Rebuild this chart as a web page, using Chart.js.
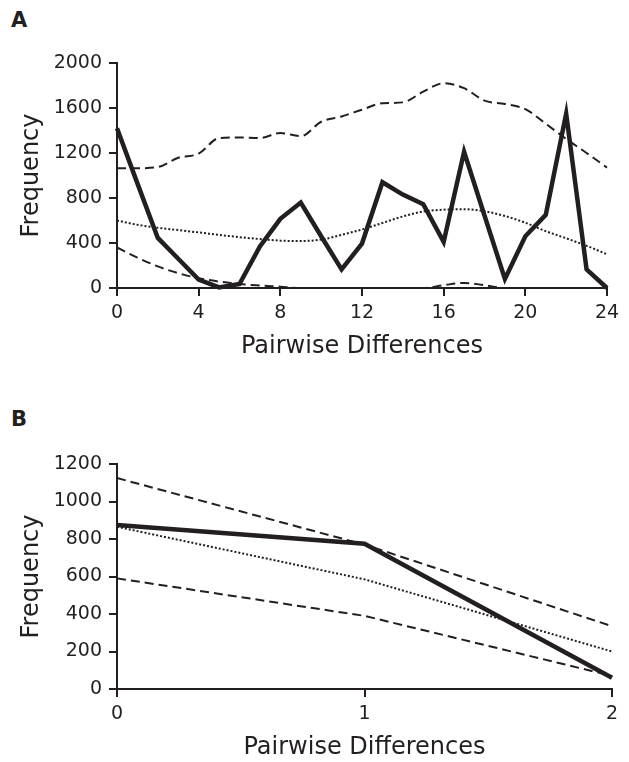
<!DOCTYPE html>
<html>
<head>
<meta charset="utf-8">
<script src="https://cdn.jsdelivr.net/npm/chart.js@4"></script>
<style>
  body { margin: 0; background: #fff; }
  .wrap { position: absolute; left: 0; width: 629px; }
  .panel { position: absolute; left: 11px; font: bold 21px "DejaVu Sans"; color: #231f20; line-height: 1; }
</style>
</head>
<body>
<div class="panel" style="top:10px">A</div>
<div class="wrap" style="top:0;height:361px"><canvas id="chartA"></canvas></div>
<div class="panel" style="top:409px">B</div>
<div class="wrap" style="top:380px;height:382px"><canvas id="chartB"></canvas></div>
<script>
const ink = '#231f20';

// panel A
const diffsA = [0, 1, 2, 3, 4, 5, 6, 7, 8, 9, 10, 11, 12, 13, 14, 15, 16, 17, 18, 19, 20, 21, 22, 23, 24];
const observedA = [1420, 930, 445, 260, 75, 5, 35, 370, 615, 760, 460, 165, 395, 940, 830, 745, 410, 1210, 645, 80, 460, 650, 1550, 165, 0];
const upperA = [1065, 1065, 1075, 1158, 1194, 1333, 1338, 1333, 1378, 1350, 1478, 1525, 1585, 1642, 1650, 1745, 1820, 1776, 1666, 1636, 1590, 1460, 1325, 1200, 1070];
const expectedA = [600, 562, 535, 515, 494, 472, 452, 435, 421, 418, 430, 472, 520, 578, 636, 680, 696, 700, 682, 640, 580, 505, 442, 375, 300];
const lowerA = [360, 270, 192, 132, 87, 57, 35, 22, 12, 0, 0, 0, 0, 0, 0, 0, 25, 45, 25, 0, 0, 0, 0, 0, 0];

// panel B
const diffsB = [0, 1, 2];
const observedB = [875, 775, 60];
const upperB = [1125, 770, 335];
const expectedB = [865, 585, 200];
const lowerB = [590, 390, 70];

function pts(xs, ys) {
  return xs.map((x, i) => ({ x: x, y: ys[i] }));
}

function lineSet(xs, ys, style, smooth) {
  const set = {
    data: pts(xs, ys),
    borderColor: ink,
    pointRadius: 0,
    fill: false,
    clip: false,
    borderWidth: 2,
    tension: 0,
  };
  if (smooth) set.cubicInterpolationMode = 'monotone';
  if (style === 'solid') {
    set.borderWidth = 4.5;
    set.borderJoinStyle = 'miter';
  } else if (style === 'dash') {
    set.borderDash = [9, 5];
  } else {
    set.borderDash = [2, 2];
  }
  return set;
}

function buildChart(id, xs, sets, xMax, xStep, yMax, yStep, padTop, padRight) {
  const tickFont = { family: 'DejaVu Sans', size: 19 };
  const titleFont = { family: 'DejaVu Sans', size: 24 };
  return new Chart(document.getElementById(id), {
    type: 'line',
    data: { datasets: sets },
    options: {
      responsive: true,
      maintainAspectRatio: false,
      animation: false,
      events: [],
      layout: { padding: { top: padTop, right: padRight, left: 0, bottom: 0 } },
      plugins: { legend: { display: false }, tooltip: { enabled: false } },
      scales: {
        x: {
          type: 'linear',
          min: 0,
          max: xMax,
          afterFit: (s) => { s.height = 73; },
          ticks: { stepSize: xStep, color: ink, font: tickFont, padding: 6, maxRotation: 0, callback: (v) => String(v) },
          grid: { drawOnChartArea: false, tickLength: 8, color: ink, lineWidth: 2 },
          border: { color: ink, width: 2 },
          title: { display: true, text: 'Pairwise Differences', color: ink, font: titleFont, padding: { top: 0, bottom: 0 } },
        },
        y: {
          min: 0,
          max: yMax,
          afterFit: (s) => { s.width = 117; },
          ticks: { stepSize: yStep, color: ink, font: tickFont, padding: 7, callback: (v) => String(v) },
          grid: { drawOnChartArea: false, tickLength: 8, color: ink, lineWidth: 2 },
          border: { color: ink, width: 2 },
          title: { display: true, text: 'Frequency', color: ink, font: titleFont, padding: { top: 17, bottom: 0 } },
        },
      },
    },
  });
}

buildChart('chartA', diffsA, [
  lineSet(diffsA, upperA, 'dash', true),
  lineSet(diffsA, expectedA, 'dot', true),
  lineSet(diffsA, lowerA, 'dash', true),
  lineSet(diffsA, observedA, 'solid', false),
], 24, 4, 2000, 400, 63, 22);

buildChart('chartB', diffsB, [
  lineSet(diffsB, upperB, 'dash', false),
  lineSet(diffsB, expectedB, 'dot', false),
  lineSet(diffsB, lowerB, 'dash', false),
  lineSet(diffsB, observedB, 'solid', false),
], 2, 1, 1200, 200, 84, 17);
</script>
</body>
</html>
